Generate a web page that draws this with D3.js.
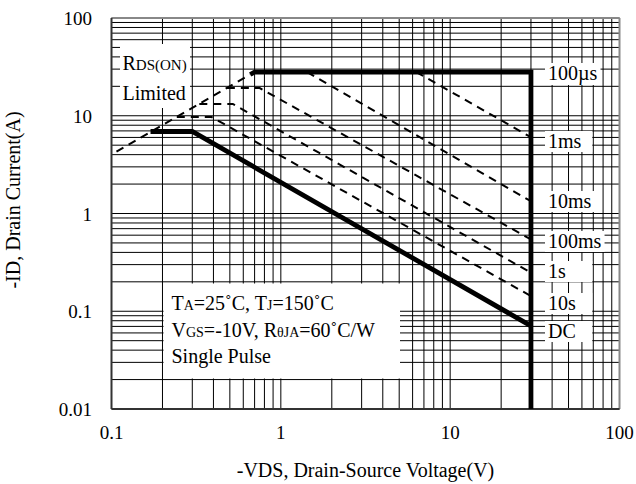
<!DOCTYPE html>
<html><head><meta charset="utf-8">
<script src="https://cdn.jsdelivr.net/npm/d3@7"></script>
<style>
body{margin:0;background:#fff}
svg{display:block}
text{font-family:"Liberation Serif","Times New Roman",serif;fill:#000}
</style>
</head><body>
<svg id="chart" width="636" height="484"></svg>
<script>
// ---------- data ----------
const xTickValues = [0.1, 1, 10, 100];
const xTickLabels = ["0.1", "1", "10", "100"];
const yTickValues = [0.01, 0.1, 1, 10, 100];
const yTickLabels = ["0.01", "0.1", "1", "10", "100"];

const rdsOnLimit = [[0.107, 4.3], [0.66, 26.4]];
const pulse100us = [[0.66, 26.4], [0.7, 28], [30, 28], [30, 0.01]];
const pulse1ms   = [[6.3, 28], [30, 6.03]];
const pulse10ms  = [[1.43, 28], [30, 1.335]];
const pulse100ms = [[0.48, 19.2], [0.75, 19.2], [30, 0.543]];
const pulse1s    = [[0.33, 13.2], [0.52, 13.2], [30, 0.248]];
const pulse10s   = [[0.243, 9.7], [0.39, 9.7], [30, 0.143]];
const pulseDC    = [[0.17, 6.9], [0.3, 6.9], [30, 0.0708]];

const curveLabels = ["100µs", "1ms", "10ms", "100ms", "1s", "10s", "DC"];

// ---------- layout ----------
const svg = d3.select("#chart");
const x = d3.scaleLog().domain([0.1, 100]).range([111.5, 619.5]);
const y = d3.scaleLog().domain([0.01, 100]).range([409, 18]);

const gridX = [], gridY = [];
for (let d = -1; d <= 1; d++) for (let k = 1; k <= 9; k++) gridX.push(k * Math.pow(10, d));
gridX.push(100);
for (let d = -2; d <= 1; d++) for (let k = 1; k <= 9; k++) gridY.push(k * Math.pow(10, d));
gridY.push(100);

const g = svg.append("g");
g.selectAll("line.gx").data(gridX).join("line")
  .attr("x1", d => x(d)).attr("x2", d => x(d))
  .attr("y1", y(100)).attr("y2", y(0.01))
  .attr("stroke", "#000").attr("stroke-width", 1);
g.selectAll("line.gy").data(gridY).join("line")
  .attr("y1", d => y(d)).attr("y2", d => y(d))
  .attr("x1", x(0.1)).attr("x2", x(100))
  .attr("stroke", "#000").attr("stroke-width", 1);

// white boxes behind the annotation text
g.append("rect").attr("x", 120).attr("y", 44).attr("width", 70).attr("height", 64).attr("fill", "#fff");
g.append("rect").attr("x", 163.5).attr("y", 283.5).attr("width", 236.5).attr("height", 95).attr("fill", "#fff");

// border
g.append("line").attr("x1", x(0.1)).attr("x2", x(100)).attr("y1", y(100)).attr("y2", y(100)).attr("stroke", "#888").attr("stroke-width", 2);
g.append("line").attr("x1", x(100)).attr("x2", x(100)).attr("y1", y(100)).attr("y2", y(0.01)).attr("stroke", "#888").attr("stroke-width", 2);
g.append("line").attr("x1", x(0.1)).attr("x2", x(0.1)).attr("y1", y(100)).attr("y2", y(0.01)).attr("stroke", "#333").attr("stroke-width", 2);
g.append("line").attr("x1", x(0.1)).attr("x2", x(100)).attr("y1", y(0.01)).attr("y2", y(0.01)).attr("stroke", "#333").attr("stroke-width", 2);

// curves
const line = d3.line().x(d => x(d[0])).y(d => y(d[1]));
const dashed = [rdsOnLimit, pulse1ms, pulse10ms, pulse100ms, pulse1s, pulse10s];
g.selectAll("path.dash").data(dashed).join("path")
  .attr("d", line).attr("fill", "none").attr("stroke", "#000")
  .attr("stroke-width", 2).attr("stroke-dasharray", "8,6");
g.selectAll("path.thick").data([pulse100us, pulseDC]).join("path")
  .attr("d", line).attr("fill", "none").attr("stroke", "#000")
  .attr("stroke-width", 4.8).attr("stroke-linejoin", "miter");

// right labels
const labelBaselines = [80, 148, 208, 248, 278, 310, 338];
const labelG = g.append("g");
curveLabels.forEach((t, i) => {
  const tx = labelG.append("text").attr("x", 548).attr("y", labelBaselines[i])
    .attr("font-size", 20).text(t);
  const bb = tx.node().getBBox();
  const right = Math.max(bb.x + bb.width + 3, x(70) - 1);
  labelG.insert("rect", "text").attr("x", 545).attr("y", bb.y + 1)
    .attr("width", right - 545).attr("height", bb.height - 1).attr("fill", "#fff");
});

// RDS(ON) Limited
const r1 = g.append("text").attr("x", 122.5).attr("y", 70);
r1.append("tspan").attr("font-size", 20).text("R");
r1.append("tspan").attr("font-size", 15).text("DS(ON)");
g.append("text").attr("x", 122.5).attr("y", 99.5).attr("font-size", 20).text("Limited");

// condition text
const c1 = g.append("text").attr("x", 171.5).attr("y", 310);
[["T",20],["A",14],["=25˚C, T",20],["J",14],["=150˚C",20]].forEach(([t,s]) => c1.append("tspan").attr("font-size", s).text(t));
const c2 = g.append("text").attr("x", 171.5).attr("y", 336.5);
[["V",20],["GS",14],["=-10V, R",20],["θJA",14],["=60˚C/W",20]].forEach(([t,s]) => c2.append("tspan").attr("font-size", s).text(t));
g.append("text").attr("x", 171.5).attr("y", 363).attr("font-size", 20).text("Single Pulse");

// tick labels
g.selectAll("text.xt").data(xTickValues).join("text")
  .attr("x", d => x(d)).attr("y", 439).attr("text-anchor", "middle")
  .attr("font-size", 19).text((d, i) => xTickLabels[i]);
g.selectAll("text.yt").data(yTickValues).join("text")
  .attr("x", 92).attr("y", d => y(d) + 7).attr("text-anchor", "end")
  .attr("font-size", 19).text((d, i) => yTickLabels[i]);

// axis titles
g.append("text").attr("x", (x(0.1) + x(100)) / 2).attr("y", 477).attr("text-anchor", "middle")
  .attr("font-size", 20).text("-VDS, Drain-Source Voltage(V)");
g.append("text").attr("transform", "translate(20,200) rotate(-90)").attr("text-anchor", "middle")
  .attr("font-size", 20).text("-ID, Drain Current(A)");
</script>
</body></html>
